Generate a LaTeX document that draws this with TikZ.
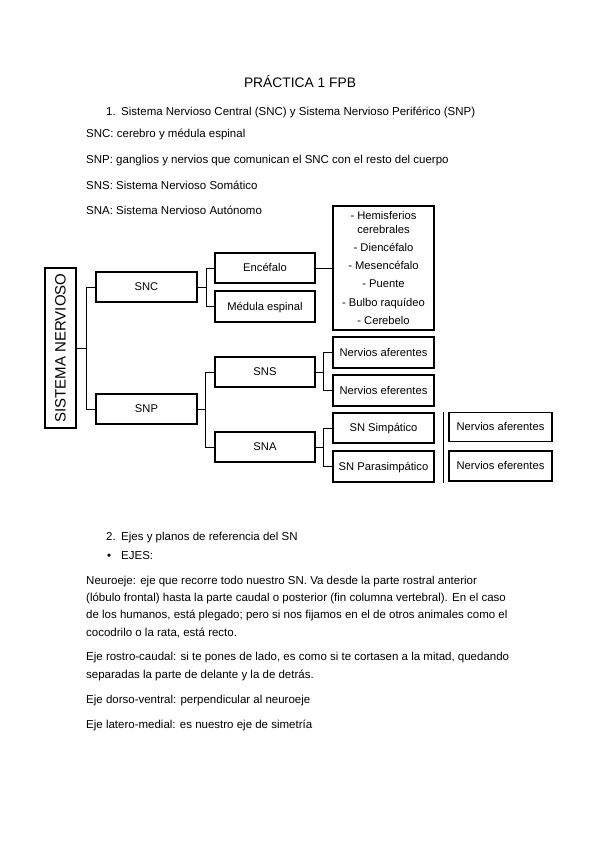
\documentclass[tikz,border=0pt]{standalone}
\usepackage{fontspec}
\setmainfont{Liberation Sans}
\usepackage{tikz}
\usetikzlibrary{positioning}

\begin{document}
\begin{tikzpicture}[
  x=1pt, y=-1pt,
  txt/.style={anchor=base west, inner sep=0pt, font=\fontsize{11.5}{17.4}\selectfont, align=left},
  frame/.style={rectangle, draw=black, line width=1.2pt, align=center, inner sep=2pt,
                font=\fontsize{11.2}{13.6}\selectfont},
  box/.style={frame, minimum width=#1, minimum height=30pt, text height=8.5pt, text depth=1pt},
  box/.default=100pt,
  link/.style={draw=black, line width=0.9pt}
]
  \useasboundingbox[fill=white] (0,0) rectangle (599,848);

  \node[anchor=base, inner sep=0pt, font=\fontsize{13.8}{16}\selectfont] (title) at (300,88) {PRÁCTICA 1 FPB};

  \node[txt] (n1) at (106,116) {1.};
  \node[txt] (i1) at (121,116) {Sistema Nervioso Central (SNC) y Sistema Nervioso Periférico (SNP)};
  \node[txt] (dsnc) at (86,138) {SNC: cerebro y médula espinal};
  \node[txt] (dsnp) at (86,163) {SNP: ganglios y nervios que comunican el SNC con el resto del cuerpo};
  \node[txt] (dsns) at (86,189) {SNS: Sistema Nervioso Somático};
  \node[txt] (dsna) at (86,214) {SNA: Sistema Nervioso Autónomo};

  \node[frame, minimum width=31pt, minimum height=160pt, inner sep=0pt] (sn) at (60.5,348)
    {\rotatebox{90}{\fontsize{15}{17}\selectfont SISTEMA NERVIOSO}};
  \node[box=101pt] (snc) at (146.5,287) {SNC};
  \node[box=101pt] (snp) at (146.5,409) {SNP};
  \node[box] (enc) at (265,268) {Encéfalo};
  \node[box, minimum height=31pt] (med) at (265,306.5) {Médula espinal};
  \node[box] (sns) at (265,372) {SNS};
  \node[box] (sna) at (265,447) {SNA};
  \node[frame, minimum width=101pt, minimum height=124pt] (lst) at (383.5,268)
    {- Hemisferios\\cerebrales\\[4.6pt]- Diencéfalo\\[4.6pt]- Mesencéfalo\\[4.6pt]- Puente\\[4.6pt]- Bulbo raquídeo\\[4.6pt]- Cerebelo};
  \node[box=101pt, minimum height=31pt] (naf) at (383.5,352.5) {Nervios aferentes};
  \node[box=101pt, minimum height=31pt] (nef) at (383.5,390.5) {Nervios eferentes};
  \node[box=101pt] (sim) at (383.5,428) {SN Simpático};
  \node[box=101pt, minimum height=31pt] (par) at (383.5,466.5) {SN Parasimpático};
  \node[box=103pt, minimum height=29pt] (naf2) at (500.5,427) {Nervios aferentes};
  \node[box=103pt] (nef2) at (500.5,466) {Nervios eferentes};

  \coordinate (sep1) at (443,412);
  \coordinate (sep2) at (443,483);

  \draw[link] (sn.east) -- ++(10,0) |- (snc.west);
  \draw[link] (sn.east) -- ++(10,0) |- (snp.west);
  \draw[link] (snc.east) -- ++(9,0) |- (enc.west);
  \draw[link] (snc.east) -- ++(9,0) |- (med.west);
  \draw[link] (snp.east) -- ++(8,0) |- (sns.west);
  \draw[link] (snp.east) -- ++(8,0) |- (sna.west);
  \draw[link] (enc.east) -- (lst.west);
  \draw[link] (sns.east) -- ++(8,0) |- (naf.west);
  \draw[link] (sns.east) -- ++(8,0) |- (nef.west);
  \draw[link] (sna.east) -- ++(8,0) |- (sim.west);
  \draw[link] (sna.east) -- ++(8,0) |- (par.west);
  \draw[link] (sep1) -- (sep2);

  \node[txt] (n2) at (106,540) {2.};
  \node[txt] (i2) at (121,540) {Ejes y planos de referencia del SN};
  \node[txt] (b1) at (107,559) {•};
  \node[txt] (ejes) at (121,559) {EJES:};
  \node[txt] (neuro) at (86,636.2) {Neuroeje: eje que recorre todo nuestro SN. Va desde la parte rostral anterior\\
    (lóbulo frontal) hasta la parte caudal o posterior (fin columna vertebral). En el caso\\
    de los humanos, está plegado; pero si nos fijamos en el de otros animales como el\\
    cocodrilo o la rata, está recto.};
  \node[txt] (rostro) at (86,678) {Eje rostro-caudal: si te pones de lado, es como si te cortasen a la mitad, quedando\\
    separadas la parte de delante y la de detrás.};
  \node[txt] (dorso) at (86,703) {Eje dorso-ventral: perpendicular al neuroeje};
  \node[txt] (latero) at (86,728) {Eje latero-medial: es nuestro eje de simetría};
\end{tikzpicture}
\end{document}
